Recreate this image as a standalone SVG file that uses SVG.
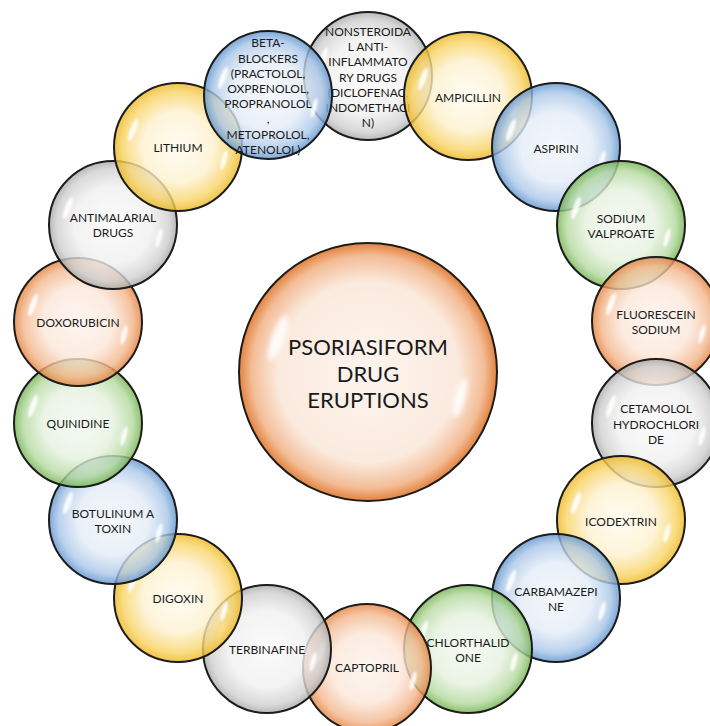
<svg xmlns="http://www.w3.org/2000/svg" xmlns:xlink="http://www.w3.org/1999/xlink" width="710" height="726" viewBox="0 0 710 726">
<style>
.bub{stroke:#1c1c1c;stroke-width:2}
.lbl{font-family:Lato,"Liberation Sans",sans-serif;font-size:12px;fill:#1a1a1a;text-anchor:middle}
.big{font-family:Lato,"Liberation Sans",sans-serif;font-size:22px;fill:#1a1a1a;text-anchor:middle}
.gl{fill:#ffffff;opacity:0.9;filter:url(#blur)}
</style>
<defs>
<filter id="blur" x="-50%" y="-50%" width="200%" height="200%"><feGaussianBlur stdDeviation="1.3"/></filter>
<radialGradient id="gGray"><stop offset="0" stop-color="#fafafa" stop-opacity="0.8"/><stop offset="0.6" stop-color="#f0f0f0" stop-opacity="0.8"/><stop offset="0.88" stop-color="#cfcfcf" stop-opacity="0.8"/><stop offset="1" stop-color="#a9a9a9" stop-opacity="0.82"/></radialGradient>
<radialGradient id="gYel"><stop offset="0" stop-color="#fffbee" stop-opacity="0.8"/><stop offset="0.55" stop-color="#fdf1cf" stop-opacity="0.8"/><stop offset="0.85" stop-color="#f8d466" stop-opacity="0.8"/><stop offset="1" stop-color="#eeb824" stop-opacity="0.82"/></radialGradient>
<radialGradient id="gBlue"><stop offset="0" stop-color="#f2f6fb" stop-opacity="0.8"/><stop offset="0.55" stop-color="#e3ecf7" stop-opacity="0.8"/><stop offset="0.85" stop-color="#a9c6e8" stop-opacity="0.8"/><stop offset="1" stop-color="#5f95cf" stop-opacity="0.82"/></radialGradient>
<radialGradient id="gGreen"><stop offset="0" stop-color="#f3f8f0" stop-opacity="0.8"/><stop offset="0.55" stop-color="#e5f1de" stop-opacity="0.8"/><stop offset="0.85" stop-color="#b4d99f" stop-opacity="0.8"/><stop offset="1" stop-color="#74b350" stop-opacity="0.82"/></radialGradient>
<radialGradient id="gOr"><stop offset="0" stop-color="#fdf4ee" stop-opacity="0.8"/><stop offset="0.55" stop-color="#fbe6d8" stop-opacity="0.8"/><stop offset="0.85" stop-color="#f3b68c" stop-opacity="0.8"/><stop offset="1" stop-color="#e5823f" stop-opacity="0.82"/></radialGradient>
<radialGradient id="gCenter"><stop offset="0" stop-color="#fdf4ee"/><stop offset="0.7" stop-color="#fbeade"/><stop offset="0.9" stop-color="#f3bd97"/><stop offset="1" stop-color="#e3833f"/></radialGradient>
<g id="glint">
<ellipse class="gl" cx="-45" cy="-17" rx="3" ry="12" transform="rotate(20 -45 -17)"/>
<ellipse class="gl" cx="46" cy="13" rx="2.6" ry="10" transform="rotate(15 46 13)"/>
</g>
</defs>
<g id="connectors"></g>
<g id="center">
<circle class="bub" cx="368" cy="372" r="129" fill="url(#gCenter)"/>
<use xlink:href="#glint" transform="translate(368,372) scale(2)"/>
<text class="big" x="368" y="355">PSORIASIFORM<tspan x="368" dy="26.5">DRUG</tspan><tspan x="368" dy="26.5">ERUPTIONS</tspan></text>
</g>
<g id="n1">
<circle class="bub" cx="368" cy="76" r="64" fill="url(#gGray)"/>
<use xlink:href="#glint" transform="translate(368,76)"/>
<text class="lbl" x="368" y="36">NONSTEROIDA<tspan x="368" dy="15.2">L ANTI-</tspan><tspan x="368" dy="15.2">INFLAMMATO</tspan><tspan x="368" dy="15.2">RY DRUGS</tspan><tspan x="368" dy="15.2">(DICLOFENAC,</tspan><tspan x="368" dy="15.2">INDOMETHACI</tspan><tspan x="368" dy="15.2">N)</tspan></text>
</g>
<g id="n2">
<circle class="bub" cx="468" cy="96" r="64" fill="url(#gYel)"/>
<use xlink:href="#glint" transform="translate(468,96)"/>
<text class="lbl" x="468" y="101.5">AMPICILLIN</text>
</g>
<g id="n3">
<circle class="bub" cx="556" cy="147" r="64" fill="url(#gBlue)"/>
<use xlink:href="#glint" transform="translate(556,147)"/>
<text class="lbl" x="556" y="152.5">ASPIRIN</text>
</g>
<g id="n4">
<circle class="bub" cx="621" cy="225" r="64" fill="url(#gGreen)"/>
<use xlink:href="#glint" transform="translate(621,225)"/>
<text class="lbl" x="621" y="222.5">SODIUM<tspan x="621" dy="15.2">VALPROATE</tspan></text>
</g>
<g id="n5">
<circle class="bub" cx="656" cy="321" r="64" fill="url(#gOr)"/>
<use xlink:href="#glint" transform="translate(656,321)"/>
<text class="lbl" x="656" y="318.9">FLUORESCEIN<tspan x="656" dy="15.2">SODIUM</tspan></text>
</g>
<g id="n6">
<circle class="bub" cx="656" cy="423" r="64" fill="url(#gGray)"/>
<use xlink:href="#glint" transform="translate(656,423)"/>
<text class="lbl" x="656" y="413.3">CETAMOLOL<tspan x="656" dy="15.2">HYDROCHLORI</tspan><tspan x="656" dy="15.2">DE</tspan></text>
</g>
<g id="n7">
<circle class="bub" cx="621" cy="520" r="64" fill="url(#gYel)"/>
<use xlink:href="#glint" transform="translate(621,520)"/>
<text class="lbl" x="621" y="525.5">ICODEXTRIN</text>
</g>
<g id="n8">
<circle class="bub" cx="556" cy="598" r="64" fill="url(#gBlue)"/>
<use xlink:href="#glint" transform="translate(556,598)"/>
<text class="lbl" x="556" y="595.9">CARBAMAZEPI<tspan x="556" dy="15.2">NE</tspan></text>
</g>
<g id="n9">
<circle class="bub" cx="468" cy="649" r="64" fill="url(#gGreen)"/>
<use xlink:href="#glint" transform="translate(468,649)"/>
<text class="lbl" x="468" y="646.9">CHLORTHALID<tspan x="468" dy="15.2">ONE</tspan></text>
</g>
<g id="n10">
<circle class="bub" cx="367" cy="668" r="64" fill="url(#gOr)"/>
<use xlink:href="#glint" transform="translate(367,668)"/>
<text class="lbl" x="367" y="672">CAPTOPRIL</text>
</g>
<g id="n11">
<circle class="bub" cx="267" cy="649" r="64" fill="url(#gGray)"/>
<use xlink:href="#glint" transform="translate(267,649)"/>
<text class="lbl" x="267" y="653.5">TERBINAFINE</text>
</g>
<g id="n12">
<circle class="bub" cx="178" cy="598" r="64" fill="url(#gYel)"/>
<use xlink:href="#glint" transform="translate(178,598)"/>
<text class="lbl" x="178" y="602.5">DIGOXIN</text>
</g>
<g id="n13">
<circle class="bub" cx="113" cy="520" r="64" fill="url(#gBlue)"/>
<use xlink:href="#glint" transform="translate(113,520)"/>
<text class="lbl" x="113" y="517.5">BOTULINUM A<tspan x="113" dy="15.2">TOXIN</tspan></text>
</g>
<g id="n14">
<circle class="bub" cx="78" cy="423" r="64" fill="url(#gGreen)"/>
<use xlink:href="#glint" transform="translate(78,423)"/>
<text class="lbl" x="78" y="428">QUINIDINE</text>
</g>
<g id="n15">
<circle class="bub" cx="78" cy="322" r="64" fill="url(#gOr)"/>
<use xlink:href="#glint" transform="translate(78,322)"/>
<text class="lbl" x="78" y="326.5">DOXORUBICIN</text>
</g>
<g id="n16">
<circle class="bub" cx="113" cy="225" r="64" fill="url(#gGray)"/>
<use xlink:href="#glint" transform="translate(113,225)"/>
<text class="lbl" x="113" y="222">ANTIMALARIAL<tspan x="113" dy="15.2">DRUGS</tspan></text>
</g>
<g id="n17">
<circle class="bub" cx="178" cy="147" r="64" fill="url(#gYel)"/>
<use xlink:href="#glint" transform="translate(178,147)"/>
<text class="lbl" x="178" y="152">LITHIUM</text>
</g>
<g id="n18">
<circle class="bub" cx="268" cy="95" r="64" fill="url(#gBlue)"/>
<use xlink:href="#glint" transform="translate(268,95)"/>
<text class="lbl" x="268" y="47.3">BETA-<tspan x="268" dy="15.2">BLOCKERS</tspan><tspan x="268" dy="15.2">(PRACTOLOL,</tspan><tspan x="268" dy="15.2">OXPRENOLOL,</tspan><tspan x="268" dy="15.2">PROPRANOLOL</tspan><tspan x="268" dy="15.2">,</tspan><tspan x="268" dy="15.2">METOPROLOL,</tspan><tspan x="268" dy="15.2">ATENOLOL)</tspan></text>
</g>
</svg>
